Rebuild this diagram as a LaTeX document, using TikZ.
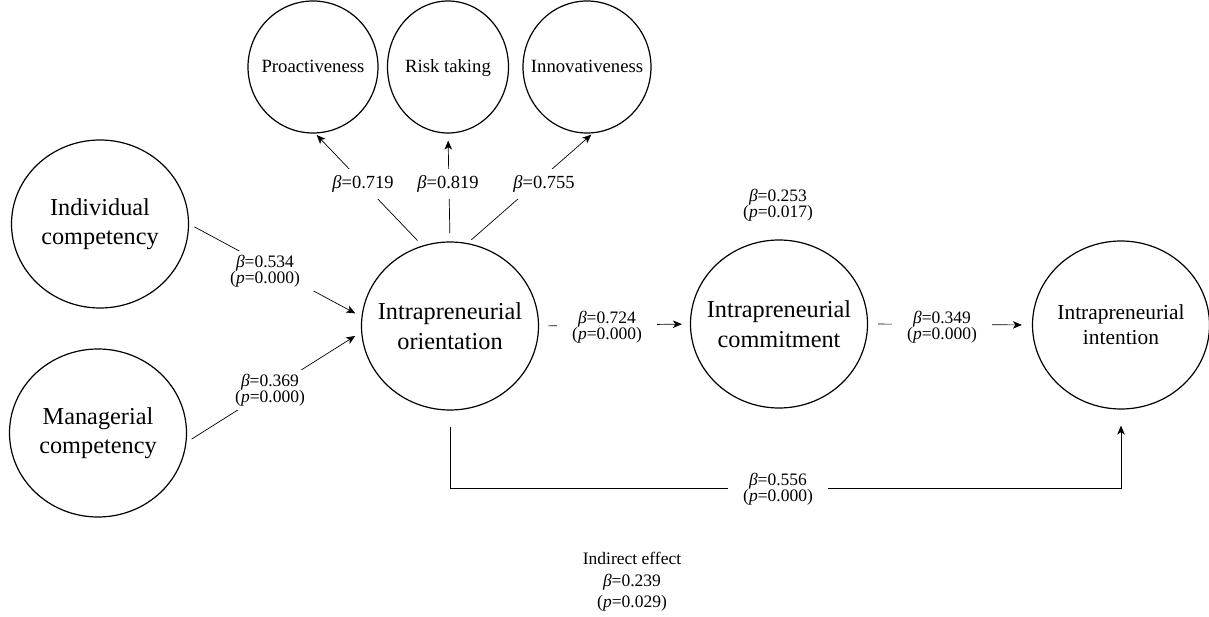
\documentclass[tikz,border=0pt]{standalone}
\usepackage{fontspec}
\setmainfont{Liberation Serif}
\usetikzlibrary{shapes.geometric,arrows.meta}
\newcommand{\zc}[1]{\makebox[0pt]{#1}}
\newcommand{\bt}{\textit{β}}
\newcommand{\pp}{\textit{p}}
\begin{document}
\begin{tikzpicture}[x=1pt,y=-1pt,
  big/.style={ellipse,draw,line width=1.2pt,minimum width=177pt,minimum height=168pt,inner sep=0pt,align=center,font=\fontsize{24.3}{29.5}\selectfont},
  small/.style={ellipse,draw,line width=1.2pt,minimum height=132pt,inner sep=0pt,text height=12pt,text depth=0pt,font=\fontsize{18.7}{22}\selectfont},
  lab/.style={fill=white,align=center,inner xsep=15pt,inner ysep=4pt,font=\fontsize{17.5}{16}\selectfont},
  toplab/.style={fill=white,inner xsep=2pt,inner ysep=7pt,font=\fontsize{18.5}{20}\selectfont},
  conn/.style={line width=0.7pt},
  arr/.style={conn,-{Stealth[length=9pt,width=7.5pt,inset=2.5pt]}}
]
\useasboundingbox (0,0) rectangle (1209,617);
% main constructs
\node[big] (ind) at (100,224) {\zc{Individual}\\\zc{competency}};
\node[big] (man) at (98,433) {\zc{Managerial}\\\zc{competency}};
\node[big] (ori) at (450,326) {\zc{Intrapreneurial}\\\zc{orientation}};
\node[big] (com) at (779,324) {\zc{Intrapreneurial}\\\zc{commitment}};
\node[big,font=\fontsize{21.4}{25}\selectfont] (int) at (1121,325) {\zc{Intrapreneurial}\\\zc{intention}};
% dimensions
\node[small,minimum width=130pt] (pro) at (313,67) {\zc{Proactiveness}};
\node[small,minimum width=121pt] (risk) at (448,67) {\zc{Risk taking}};
\node[small,minimum width=128pt] (inn) at (587,67) {\zc{Innovativeness}};
% connectors
\draw[arr,shorten <=7pt,shorten >=2pt] (ori.109) -- (pro.272);
\draw[arr,shorten <=8pt,shorten >=7pt] (ori.90) -- (risk.270);
\draw[arr,shorten <=5pt,shorten >=2pt] (ori.78) -- (inn.275);
\draw[arr,shorten <=6pt,shorten >=7pt] (ind.east) -- (ori.174);
\draw[arr,shorten <=6pt,shorten >=7pt] (man.354) -- (ori.184);
\draw[arr,shorten <=9pt,shorten >=8pt] (ori.east) -- (com.west);
\draw[arr,shorten <=10pt,shorten >=10pt] (com.east) -- (int.west);
\coordinate (bl) at (450,488);
\coordinate (br) at (1121,488);
\draw[arr,shorten <=16pt,shorten >=16pt] (ori.south) -- (bl) -- (br) -- (int.south);
% labels
\node[toplab] (l1) at (363,184) {\bt=0.719};
\node[toplab] (l2) at (448,184) {\bt=0.819};
\node[toplab] (l3) at (544,184) {\bt=0.755};
\node[lab] (l4) at (265,271) {\bt=0.534\\(\pp=0.000)};
\node[lab] (l5) at (270,390) {\bt=0.369\\(\pp=0.000)};
\node[lab] (l6) at (607,327) {\bt=0.724\\(\pp=0.000)};
\node[lab] (l7) at (942,327) {\bt=0.349\\(\pp=0.000)};
\node[lab] (l8) at (778,489) {\bt=0.556\\(\pp=0.000)};
\node[lab] (l9) at (778,205) {\bt=0.253\\(\pp=0.017)};
\node[align=center,font=\fontsize{17.5}{21.5}\selectfont] (l10) at (632,582) {Indirect effect\\\bt=0.239\\(\pp=0.029)};
\end{tikzpicture}
\end{document}
